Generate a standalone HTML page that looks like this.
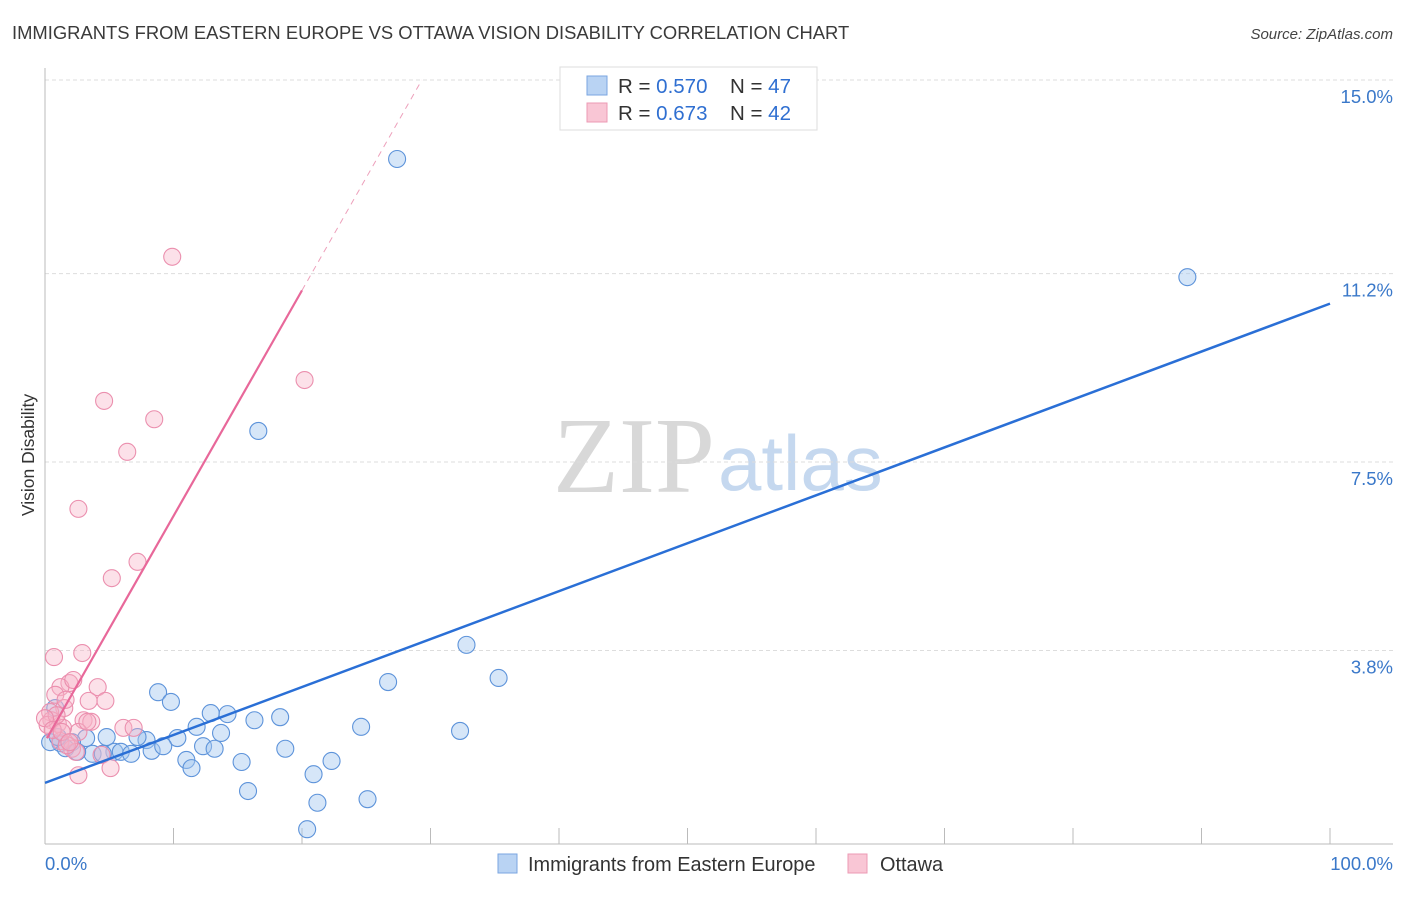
<!DOCTYPE html>
<html><head><meta charset="utf-8"><style>
body{margin:0;background:#fff;font-family:"Liberation Sans",sans-serif}
svg text{font-family:"Liberation Sans",sans-serif}
</style></head><body>
<svg id="chart" width="1406" height="892" viewBox="0 0 1406 892" xmlns="http://www.w3.org/2000/svg">
<text x="12" y="39" font-size="18.4" fill="#3a3a3a">IMMIGRANTS FROM EASTERN EUROPE VS OTTAWA VISION DISABILITY CORRELATION CHART</text>
<text x="1393" y="39" font-size="15" fill="#444" font-style="italic" text-anchor="end">Source: ZipAtlas.com</text>
<g>
<text x="553" y="492" font-size="108" fill="#d8d8d8" style="font-family:'Liberation Serif',serif">ZIP</text>
<text x="718" y="490" font-size="78" fill="#c5d8ef">atlas</text>
</g>
<g id="grid"></g>
<g id="axes"></g>
<g id="pts"></g>
<g id="lines"></g>
<text transform="translate(34,455) rotate(-90)" font-size="17.5" fill="#333" text-anchor="middle">Vision Disability</text>
<text x="45" y="870" font-size="18.5" fill="#3a78c9">0.0%</text>
<text x="1393" y="870" font-size="18.5" fill="#3a78c9" text-anchor="end">100.0%</text>
<g>
<rect x="560" y="67" width="257" height="63" fill="#fff" stroke="#ddd"/>
<rect x="587" y="76" width="20" height="19" fill="#b9d3f3" stroke="#7aa6e0"/>
<rect x="587" y="103" width="20" height="19" fill="#f9c6d5" stroke="#ec9ab4"/>
<text x="618" y="93" font-size="20.5" fill="#333">R = <tspan fill="#2f6fd1">0.570</tspan></text>
<text x="730" y="93" font-size="20.5" fill="#333">N = <tspan fill="#2f6fd1">47</tspan></text>
<text x="618" y="120" font-size="20.5" fill="#333">R = <tspan fill="#2f6fd1">0.673</tspan></text>
<text x="730" y="120" font-size="20.5" fill="#333">N = <tspan fill="#2f6fd1">42</tspan></text>
</g>
<g>
<rect x="498" y="854" width="19" height="19" fill="#b9d3f3" stroke="#7aa6e0"/>
<text x="528" y="871" font-size="19.9" fill="#333">Immigrants from Eastern Europe</text>
<rect x="848" y="854" width="19" height="19" fill="#f9c6d5" stroke="#ec9ab4"/>
<text x="880" y="871" font-size="19.9" fill="#333">Ottawa</text>
</g>
</svg>
<script>
const yTicks=[15.0,11.2,7.5,3.8];
const yTickLabels=["15.0%","11.2%","7.5%","3.8%"];
const xTicks=[0,10,20,30,40,50,60,70,80,90,100];
const blueX=[27.4,88.9,16.6,32.8,35.3,26.7,8.8,9.8,32.3,24.6,18.3,16.3,14.2,12.9,11.8,13.7,10.3,7.9,7.2,4.8,3.2,1.2,2.1,0.8,1.6,3.7,5.4,5.9,6.7,8.3,9.2,12.3,13.2,18.7,11.0,11.4,15.3,22.3,20.9,15.8,21.2,25.1,20.4,4.5,2.5,0.4,1.0];
const blueY=[13.45,11.13,8.11,3.91,3.26,3.18,2.98,2.79,2.22,2.30,2.49,2.43,2.55,2.57,2.30,2.18,2.08,2.04,2.10,2.10,2.08,1.98,2.00,2.67,1.88,1.77,1.81,1.81,1.77,1.83,1.92,1.92,1.87,1.87,1.65,1.49,1.61,1.63,1.37,1.04,0.81,0.88,0.29,1.77,1.81,2.00,2.10];
const pinkX=[9.9,20.2,4.6,8.5,6.4,2.6,7.2,5.2,0.7,2.9,4.1,1.9,1.2,0.8,4.7,3.4,1.5,0.4,3.0,3.6,0.5,1.0,6.1,6.9,2.6,1.4,1.2,2.1,2.4,4.4,5.1,2.6,0.2,0.9,1.7,0.0,3.3,0.6,1.3,1.9,1.6,2.2];
const pinkY=[11.53,9.11,8.70,8.34,7.70,6.58,5.54,5.22,3.67,3.75,3.08,3.16,3.08,2.93,2.81,2.81,2.67,2.59,2.43,2.40,2.43,2.36,2.28,2.28,2.20,2.28,2.02,1.87,1.81,1.75,1.49,1.35,2.34,2.53,1.94,2.47,2.40,2.24,2.20,2.00,2.83,3.22];
const blueTrend=[1.20,0.0941];
const pinkTrend=[2.01,0.443];
const NS="http://www.w3.org/2000/svg";
const xs=v=>45+v*12.85;
const ys=v=>844-v*50.93;
function mk(tag,attrs,parent){const e=document.createElementNS(NS,tag);for(const k in attrs)e.setAttribute(k,attrs[k]);document.getElementById(parent).appendChild(e);return e;}
yTicks.forEach((t,i)=>{
 const g=mk('line',{x1:45,x2:1393,y1:ys(t),y2:ys(t),stroke:'#ddd','stroke-dasharray':'4,3'},'grid');
 
 
 const l=mk('text',{x:1393,y:ys(t)+23,'font-size':18.5,fill:'#3a78c9','text-anchor':'end'},'grid');
 l.textContent=yTickLabels[i];
 
 
});
const ya=mk('line',{x1:45,x2:45,y1:68,y2:844,stroke:'#bbb'},'axes');


const xa=mk('line',{x1:45,x2:1393,y1:844,y2:844,stroke:'#bbb'},'axes');


xTicks.forEach(t=>{
 const tk=mk('line',{x1:xs(t),x2:xs(t),y1:828,y2:844,stroke:'#bbb'},'axes');
 
 
});
blueX.forEach((x,i)=>{
 const c=mk('circle',{cx:xs(x),cy:ys(blueY[i]),r:8.5,fill:'rgba(165,200,240,0.45)',stroke:'#5d93da','stroke-width':1.1},'pts');
 
 
});
pinkX.forEach((x,i)=>{
 const c=mk('circle',{cx:xs(x),cy:ys(pinkY[i]),r:8.5,fill:'rgba(247,180,200,0.4)',stroke:'#eb8fae','stroke-width':1.1},'pts');
 
 
});
const bl=mk('line',{x1:xs(0),y1:ys(blueTrend[0]),x2:xs(100),y2:ys(blueTrend[0]+100*blueTrend[1]),stroke:'#2a6fd6','stroke-width':2.5},'lines');


const pEnd=20;
const pl=mk('line',{x1:xs(0.15),y1:ys(pinkTrend[0]+0.15*pinkTrend[1]),x2:xs(pEnd),y2:ys(pinkTrend[0]+pEnd*pinkTrend[1]),stroke:'#e8689a','stroke-width':2.2},'lines');


const xTop=(15-pinkTrend[0])/pinkTrend[1];
const pd=mk('line',{x1:xs(pEnd),y1:ys(pinkTrend[0]+pEnd*pinkTrend[1]),x2:xs(xTop),y2:ys(15),stroke:'#eda0bb','stroke-width':1,'stroke-dasharray':'6,5'},'lines');


</script>
</body></html>
